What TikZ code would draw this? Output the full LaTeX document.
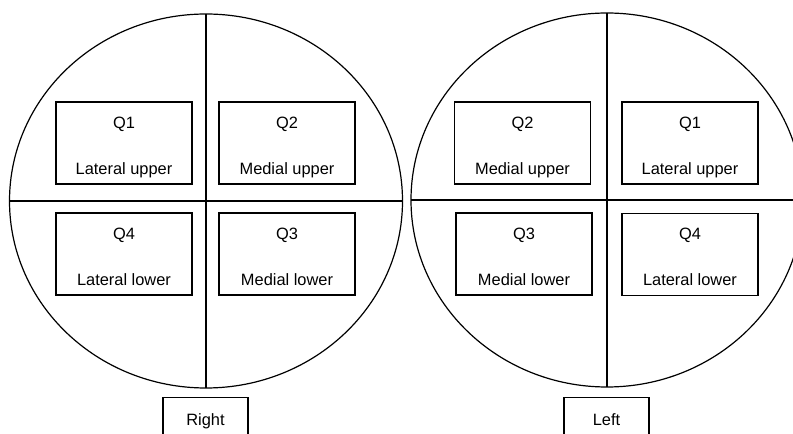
\documentclass[tikz,border=0pt]{standalone}
\usepackage{fontspec}
\setmainfont{Liberation Sans}
\usetikzlibrary{positioning}
\tikzset{
  eye/.style={line width=0.9pt},
  quad/.style={draw, line width=0.9pt, minimum width=102pt, minimum height=61.5pt, inner sep=0pt},
  qtext/.style={anchor=base, inner sep=0pt, font=\fontsize{12.3}{14}\selectfont},
  side/.style={draw, line width=0.9pt, minimum width=63.75pt, minimum height=33pt, inner sep=0pt,
    anchor=north, text height=8.8pt, text depth=0pt, font=\fontsize{12.3}{14}\selectfont}
}
\begin{document}
\begin{tikzpicture}[x=0.75pt,y=-0.75pt]
  \clip (0,0) rectangle (793,434);
  \fill[white] (0,0) rectangle (793,434);

  % right eye
  \draw[eye] (206,201) ellipse [x radius=196.5, y radius=187];
  \coordinate (rtop) at (206,14);
  \coordinate (rbot) at (206,388);
  \coordinate (rwest) at (9.5,201);
  \coordinate (reast) at (402.5,201);
  \draw[eye] (rtop) -- (rbot);
  \draw[eye] (rwest) -- (reast);

  \node[quad] (rq1) at (124,143) {};
  \node[quad] (rq2) at (287,143) {};
  \node[quad] (rq4) at (124,254) {};
  \node[quad] (rq3) at (287,254) {};
  \node[qtext] (rq1a) at (124,128.5) {Q1};
  \node[qtext] (rq1b) at (124,175) {Lateral upper};
  \node[qtext] (rq2a) at (287,128.5) {Q2};
  \node[qtext] (rq2b) at (287,175) {Medial upper};
  \node[qtext] (rq4a) at (124,239.5) {Q4};
  \node[qtext] (rq4b) at (124,286) {Lateral lower};
  \node[qtext] (rq3a) at (287,239.5) {Q3};
  \node[qtext] (rq3b) at (287,286) {Medial lower};

  \node[side] (right) at (205.5,397) {Right};

  % left eye
  \draw[eye] (607,200) ellipse [x radius=196, y radius=187];
  \coordinate (ltop) at (607,13);
  \coordinate (lbot) at (607,387);
  \coordinate (lwest) at (411,200);
  \coordinate (least) at (803,200);
  \draw[eye] (ltop) -- (lbot);
  \draw[eye] (lwest) -- (least);

  \node[quad] (lq2) at (522.5,143) {};
  \node[quad] (lq1) at (690,143) {};
  \node[quad] (lq3) at (524,254) {};
  \node[quad] (lq4) at (690,254.5) {};
  \node[qtext] (lq2a) at (522.5,128.5) {Q2};
  \node[qtext] (lq2b) at (522.5,175) {Medial upper};
  \node[qtext] (lq1a) at (690,128.5) {Q1};
  \node[qtext] (lq1b) at (690,175) {Lateral upper};
  \node[qtext] (lq3a) at (524,239.5) {Q3};
  \node[qtext] (lq3b) at (524,286) {Medial lower};
  \node[qtext] (lq4a) at (690,239.5) {Q4};
  \node[qtext] (lq4b) at (690,286) {Lateral lower};

  \node[side] (left) at (606.5,397) {Left};
\end{tikzpicture}
\end{document}
